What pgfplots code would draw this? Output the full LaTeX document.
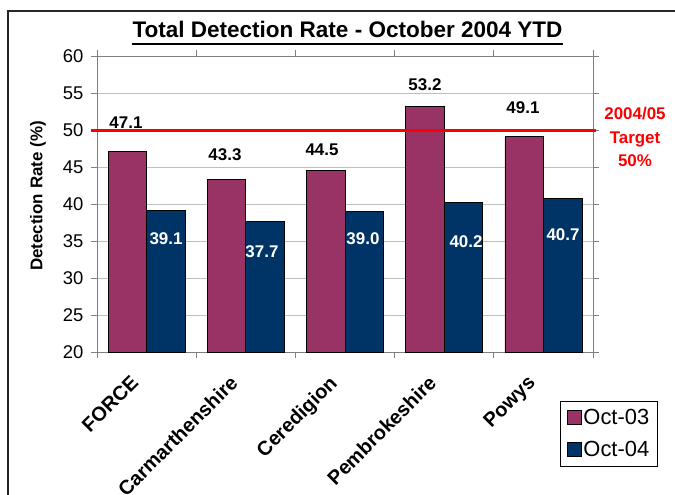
\documentclass[border=0pt]{standalone}
\usepackage{pgfplots}
\pgfplotsset{compat=1.18}
\usepackage{fontspec}
\setmainfont{Liberation Sans}
\definecolor{maroonbar}{HTML}{993366}
\definecolor{navybar}{HTML}{003366}
\definecolor{axisgray}{HTML}{808080}
\pgfplotsset{sqlegend/.style={legend image code/.code={\draw[##1] (0bp,-7bp) rectangle (14bp,7bp);}}}
\begin{document}
\begin{tikzpicture}
\path[use as bounding box] (0,0) rectangle (675bp,-495bp);
\draw[line width=1.5bp, black!85] (8bp,-800bp) -- (8bp,-11bp) -- (900bp,-11bp);
\node[font=\fontsize{22.6}{26}\selectfont\bfseries, anchor=base, inner sep=0pt] (T) at (347.5bp,-37bp) {Total Detection Rate - October 2004 YTD};
\draw[line width=2bp] ([yshift=-6.5bp]T.base west) -- ([yshift=-6.5bp]T.base east);
\begin{axis}[
  at={(97bp,-352bp)}, anchor=south west,
  scale only axis, width=496bp, height=296bp,
  ymin=20, ymax=60, ytick={20,25,...,60},
  xmin=-0.5, xmax=4.5,
  xtick={-0.5,0.5,...,4.5}, xticklabel=\empty,
  extra x ticks={0,1,2,3,4},
  extra x tick labels={FORCE,Carmarthenshire,Ceredigion,Pembrokeshire,Powys},
  extra x tick style={major tick length=0pt, grid=none,
     xticklabel style={font=\fontsize{20}{22}\selectfont\bfseries, xshift=-17bp, yshift=-22bp, rotate=45, anchor=north east, inner sep=0pt}},
  tick align=outside, major tick length=6bp,
  every tick/.style={axisgray, line width=0.8bp},
  axis line style={axisgray, line width=0.9bp},
  ymajorgrids, grid style={draw=black!25, line width=0.8bp},
  yticklabel style={font=\fontsize{18.5}{20}\selectfont, xshift=-4bp},
  /pgf/number format/assume math mode=true,
  every axis y label/.style={at={(axis description cs:-0.119,0.527)}, rotate=90, anchor=center, font=\fontsize{17}{20}\selectfont\bfseries},
  ylabel={Detection Rate (\%)},
  ybar=0pt, bar width=38.5bp,
  clip=false,
  legend style={at={(axis description cs:0.934,-0.1655)}, anchor=north west, draw=black, line width=0.8bp,
     font=\fontsize{22}{24}\selectfont, inner xsep=6bp, inner ysep=6bp, row sep=11bp,
     cells={anchor=west}},
]
\addplot[fill=maroonbar, draw=black, line width=0.8bp, sqlegend]
  coordinates {(0,47.1) (1,43.3) (2,44.5) (3,53.2) (4,49.1)};
\addlegendentry{Oct-03}
\addplot[fill=navybar, draw=black, line width=0.8bp, sqlegend]
  coordinates {(0,39.1) (1,37.7) (2,39.0) (3,40.2) (4,40.7)};
\addlegendentry{Oct-04}
\addplot[forget plot, sharp plot, red, line width=3bp] coordinates {(-0.56,50) (4.53,50)};
\begin{scope}[every node/.style={font=\fontsize{17}{20}\selectfont\bfseries, inner sep=0pt, anchor=center}]
\node at (axis cs:-0.208,50.95) {47.1};
\node at (axis cs:0.790,46.62) {43.3};
\node at (axis cs:1.768,47.30) {44.5};
\node at (axis cs:2.806,56.08) {53.2};
\node at (axis cs:3.794,52.97) {49.1};
\node[white] at (axis cs:0.196,35.27) {39.1};
\node[white] at (axis cs:1.163,33.51) {37.7};
\node[white] at (axis cs:2.181,35.27) {39.0};
\node[white] at (axis cs:3.220,34.86) {40.2};
\node[white] at (axis cs:4.198,35.81) {40.7};
\end{scope}
\end{axis}
\node[font=\fontsize{17}{23.5}\selectfont\bfseries, text=red, align=center, anchor=center] at (635bp,-137bp) {2004/05\\Target\\50\%};
\end{tikzpicture}
\end{document}
